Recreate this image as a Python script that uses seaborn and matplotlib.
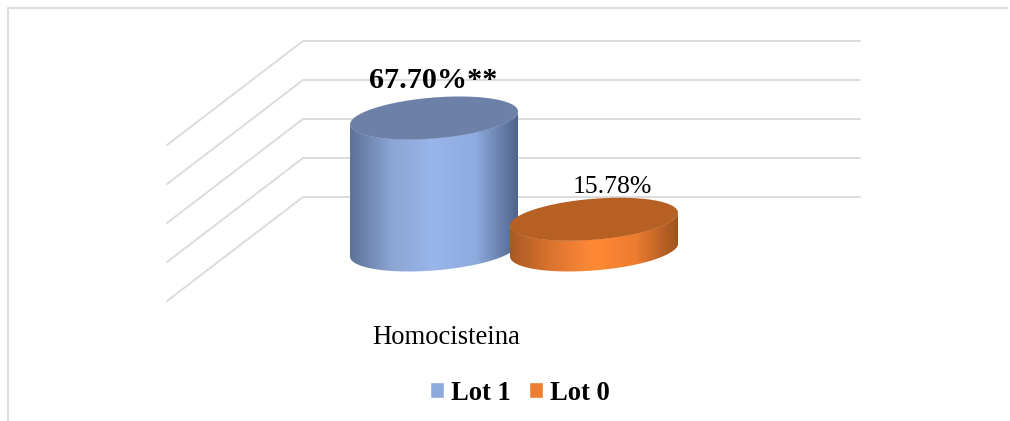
import numpy as np
import pandas as pd
import matplotlib
matplotlib.use('Agg')
import matplotlib.pyplot as plt
import seaborn as sns
from matplotlib.colors import LinearSegmentedColormap
from matplotlib.lines import Line2D
from matplotlib.patches import PathPatch
from matplotlib.path import Path

category = ['Homocisteina']
lots = ['Lot 1', 'Lot 0']
values = [67.70, 15.78]
grid_values = [0, 20, 40, 60, 80]
label_suffix = ['**', '']

sns.set_theme(style='white')
plt.rcParams['font.family'] = ['Liberation Serif', 'DejaVu Sans']

legend_colors = {'Lot 1': '#8faadc', 'Lot 0': '#ed7d31'}
top_colors = {'Lot 1': '#6c80a8', 'Lot 0': '#b66024'}
side_colors = {
    'Lot 1': ['#5d7299', '#8ba5d4', '#9ab5ea', '#8eaadf', '#4f6488'],
    'Lot 0': ['#a85a24', '#dc7430', '#ff8a35', '#ee7c30', '#9c5320'],
}

PX_PER_UNIT = 1.95   # vertical scale
PX_PER_X = 400
X0_PX, Y0_PX = 514, 250
W, H = 1010, 421
DEPTH_BACK = 53 / PX_PER_UNIT
DEPTH_FRONT = 51 / PX_PER_UNIT
ELL_B = 20.5 / PX_PER_UNIT
ELL_SKEW = 6.5 / PX_PER_UNIT

df = pd.DataFrame({'cat': category * 2, 'lot': lots, 'value': values})

fig = plt.figure(figsize=(W / 100, H / 100), dpi=100)
ax = fig.add_axes([0, 0, 1, 1])

sns.barplot(data=df, x='cat', y='value', hue='lot', hue_order=lots,
            palette=legend_colors, saturation=1, gap=-0.05, ax=ax, zorder=3)
handles, labels = ax.get_legend_handles_labels()
if ax.get_legend():
    ax.get_legend().remove()

xlim = (-X0_PX / PX_PER_X, (W - X0_PX) / PX_PER_X)
ylim = ((Y0_PX - H) / PX_PER_UNIT, Y0_PX / PX_PER_UNIT)


def wall_x(px):
    return (px - X0_PX) / PX_PER_X


# back wall and side wall grid
for g in grid_values:
    ax.plot([wall_x(167), wall_x(303), wall_x(860)],
            [g - DEPTH_FRONT, g + DEPTH_BACK, g + DEPTH_BACK],
            color='#dcdcdc', lw=1.4, zorder=1, solid_joinstyle='miter')

t = np.linspace(0, np.pi, 80)
for i, lot in enumerate(lots):
    bar = ax.containers[i][0]
    x0 = bar.get_x()
    w = bar.get_width()
    v = bar.get_height()
    cx = x0 + w / 2
    z = 3 + i * 2

    # side of the cylinder: lower half of base, up, lower half of top back
    xs = cx + w / 2 * np.cos(t)
    low = ELL_SKEW * np.cos(t) - ELL_B * np.sin(t)
    body = np.vstack([np.column_stack([xs[::-1], low[::-1]]),
                      np.column_stack([xs, low + v])])
    body_patch = PathPatch(Path(np.vstack([body, body[0]])), fc='none', ec='none', zorder=z)
    ax.add_patch(body_patch)
    bar.set_zorder(z)
    bar.set_clip_path(body_patch)

    cmap = LinearSegmentedColormap.from_list(lot, side_colors[lot])
    im = ax.imshow(np.linspace(0, 1, 256)[None, :], cmap=cmap, aspect='auto',
                   extent=(x0, x0 + w, -ELL_B - ELL_SKEW, v + ELL_B + ELL_SKEW),
                   interpolation='bilinear', zorder=z + 0.2)
    im.set_clip_path(body_patch)

    # top face
    tt = np.linspace(0, 2 * np.pi, 160)
    top = np.column_stack([cx + w / 2 * np.cos(tt),
                           v + ELL_SKEW * np.cos(tt) + ELL_B * np.sin(tt)])
    ax.add_patch(PathPatch(Path(top), fc=top_colors[lot], ec='none', zorder=z + 0.4))

ax.set_xlim(*xlim)
ax.set_ylim(*ylim)
ax.set_axis_off()

# value labels
ax.annotate(f'{values[0]:.2f}%{label_suffix[0]}',
            xy=(ax.containers[0][0].get_x() + ax.containers[0][0].get_width() / 2, values[0]),
            xytext=(-1, 37), textcoords='offset pixels', ha='center', va='center',
            fontsize=21.7, fontweight='bold', color='black', zorder=10)
ax.annotate(f'{values[1]:.2f}%{label_suffix[1]}',
            xy=(ax.containers[1][0].get_x() + ax.containers[1][0].get_width() / 2, values[1]),
            xytext=(18, 32), textcoords='offset pixels', ha='center', va='center',
            fontsize=18.5, color='black', zorder=10)

ax.text(wall_x(446), (Y0_PX - 337) / PX_PER_UNIT, category[0], ha='center', va='center',
        fontsize=19.2, color='black')

fig.legend(handles, labels, loc='center', bbox_to_anchor=(520 / W, 1 - 393 / H),
           ncol=2, frameon=False, borderpad=0, borderaxespad=0,
           handlelength=0.52, handleheight=0.52, handletextpad=0.26, columnspacing=0.7,
           labelcolor='black',
           prop={'family': 'Liberation Serif', 'weight': 'bold', 'size': 19.2})

# chart frame, only top and left show
fig.add_artist(Line2D([8 / W, 1007 / W], [1 - 8 / H, 1 - 8 / H], color='#dcdcdc', lw=1.4))
fig.add_artist(Line2D([8 / W, 8 / W], [1 - 8 / H, 0], color='#dcdcdc', lw=1.4))

fig.savefig('out.png', dpi=100)
